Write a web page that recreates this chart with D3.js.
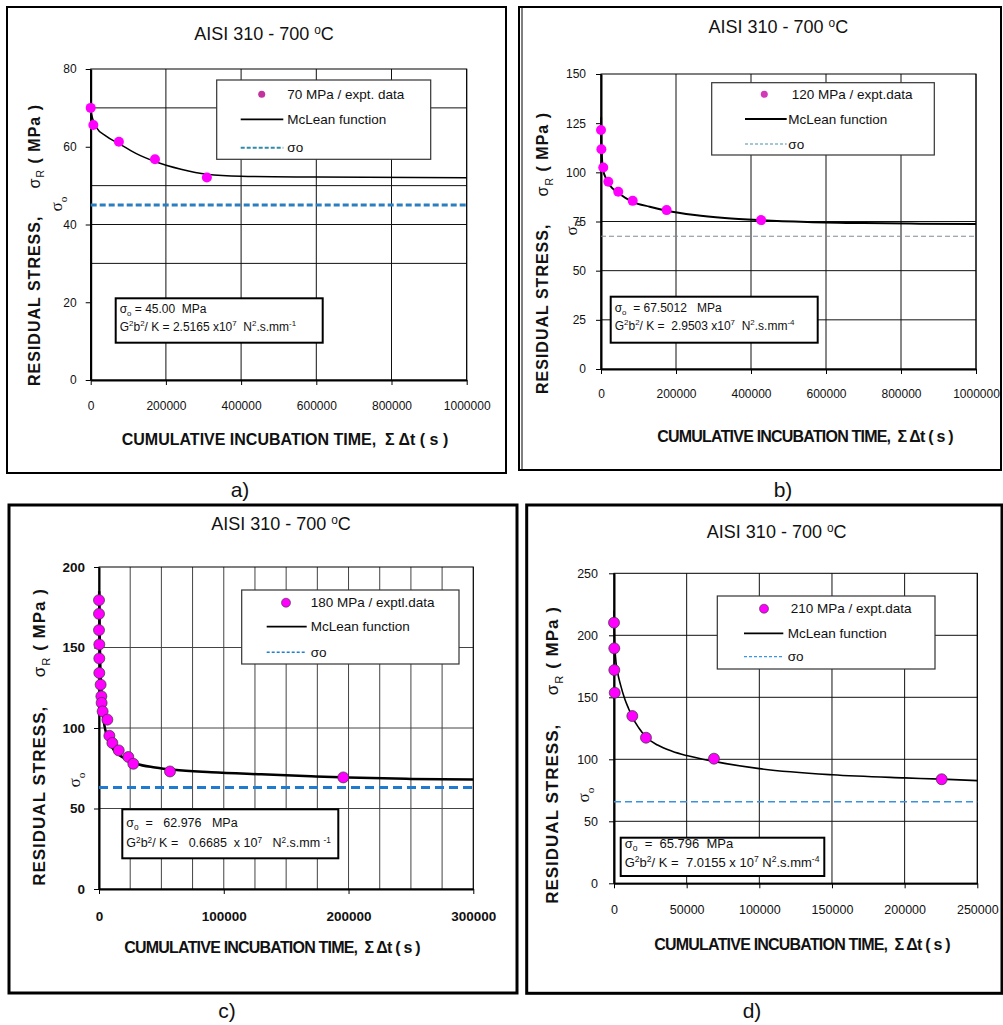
<!DOCTYPE html>
<html>
<head>
<meta charset="utf-8">
<script src="https://cdn.jsdelivr.net/npm/d3@7"></script>
<style>
  body { margin: 0; background: #fff; }
  svg text { font-family: "Liberation Sans", Arial, sans-serif; white-space: pre; fill: #111; }
</style>
</head>
<body>
<div id="chart"></div>
<script>
// ---- data ----
// a) 70 MPa
const aTime = [0, 7000, 75000, 171000, 309000]
const aStress = [70, 65.6, 61.3, 56.8, 52.1]
const aCurveTime = [0, 5000, 15000, 40000, 75000, 120000, 171000, 240000, 309000, 400000, 600000, 1000000]
const aCurveStress = [69.5, 67.3, 65, 62.8, 60.8, 58.3, 56.2, 54.2, 52.9, 52.4, 52.2, 52]
const aXTicks = [0, 200000, 400000, 600000, 800000, 1000000]
const aYTicks = [0, 20, 40, 60, 80]
const aYGrid = [30, 40, 50, 70]

// b) 120 MPa
const bTime = [0, 1000, 6000, 19500, 46000, 84500, 175000, 427000]
const bStress = [121.5, 111.7, 102.5, 95.2, 90.1, 85.5, 80.8, 75.7]
const bCurveTime = [300, 1000, 3000, 6000, 12000, 19500, 30000, 46000, 84500, 130000, 175000, 250000, 330000, 427000, 550000, 700000, 850000, 1000000]
const bCurveStress = [128, 114, 106, 101, 97.5, 94.5, 92, 89.5, 85, 82.5, 80.5, 78.3, 76.8, 75.7, 74.8, 74.2, 73.9, 73.7]
const bXTicks = [0, 200000, 400000, 600000, 800000, 1000000]
const bYTicks = [0, 25, 50, 75, 100, 125, 150]
const bYGrid = [25, 50, 75]

// c) 180 MPa
const cTime = [0, 0, 0, 250, 250, 250, 1300, 1900, 2100, 2900, 6700, 8300, 10700, 15800, 23500, 27500, 56900, 195800]
const cStress = [179.4, 170.9, 160.8, 151.9, 143.2, 134.2, 126.9, 119.7, 115.6, 110.3, 105.2, 95.2, 90.7, 86.1, 82, 77.8, 73, 69.3]
const cCurveTime = [150, 500, 1000, 1800, 2600, 3500, 5000, 7000, 10000, 15000, 22000, 30000, 45000, 60000, 90000, 130000, 170000, 200000, 250000, 300000]
const cCurveStress = [185, 160, 140, 125, 114, 106, 99, 93.5, 88.5, 84, 80.5, 77.8, 75.5, 74, 72.5, 71.2, 70, 69.2, 68.4, 68]
const cXTicks = [0, 100000, 200000, 300000]
const cXGrid = [0, 25000, 50000, 75000, 100000, 125000, 150000, 175000, 200000, 225000, 250000, 275000, 300000]
const cYTicks = [0, 50, 100, 150, 200]
const cYGrid = [50, 100, 150]

// d) 210 MPa
const dTime = [0, 200, 200, 500, 12600, 22000, 68800, 225500]
const dStress = [210.2, 189.5, 172, 153.7, 134.9, 117.4, 100.5, 83.9]
const dCurveTime = [0, 300, 1000, 2500, 4500, 7600, 10000, 12600, 17000, 22000, 30000, 40000, 50000, 68800, 100000, 150000, 200000, 225500, 250000]
const dCurveStress = [220, 200, 183, 170, 160, 148, 141, 134, 125.5, 118, 111.5, 106.5, 103, 98.3, 92.5, 87.5, 85, 84, 82.8]
const dXTicks = [0, 50000, 100000, 150000, 200000, 250000]
const dYTicks = [0, 50, 100, 150, 200, 250]
const dYGrid = [50, 100, 150, 200]

// ---- layout of the four panels ----
const panels = [
  { id: 'a', frame: [7, 7, 506, 473], frameW: 2, left: 90.7, right: 466.7, top: 69, bottom: 380,
    xMax: 1000000, yMax: 80, time: aTime, stress: aStress, cTime: aCurveTime, cStress: aCurveStress,
    xTicks: aXTicks, xGrid: aXTicks, yTicks: aYTicks, yGrid: aYGrid, sigma0: 45,
    title: [264, 40], ylab: [40, 245], ylabSize: 16, sigLab: [62, 204], xlab: [285, 445], xlabSpacing: 0,
    xTickY: 406, yTickX: 76.7, tickSize: 12, tickBold: false,
    legend: [216.7, 80, 430.7, 159.3], marker: [261.7, 94.3], markerR: 3.5, markerFill: '#c2339e', markerStroke: 'none',
    legText1X: 287.3, legTextX: 287.3, legRows: [94.3, 119.3, 147.7], legLine: [240.7, 283.3],
    legendLabel: '70 MPa / expt. data', legDash: { color: '#2f8aa8', w: 2, dash: '4,2' },
    box: [115.7, 298.3, 322.7, 342.7], boxRows: [312.5, 330.5], boxSize: 12,
    line1: [['σ'], ['o', 'sub'], [' = 45.00  MPa']],
    line2: [['G'], ['2', 'sup'], ['b'], ['2', 'sup'], ['/ K = 2.5165 x10'], ['7', 'sup'], ['  N'], ['2', 'sup'], ['.s.mm'], ['-1', 'sup']],
    curveW: 1.5, pointR: 5, pointStroke: 'none',
    sigmaLine: { color: '#2b7fc0', w: 3, dash: '6,3' }, gridColor: '#111' },
  { id: 'b', frame: [519, 7, 1001, 470], frameW: 2, left: 601, right: 976, top: 74, bottom: 369,
    xMax: 1000000, yMax: 150, time: bTime, stress: bStress, cTime: bCurveTime, cStress: bCurveStress,
    xTicks: bXTicks, xGrid: bXTicks, yTicks: bYTicks, yGrid: bYGrid, sigma0: 67.5012,
    title: [778.3, 33.3], ylab: [548.3, 253], ylabSize: 16, sigLab: [576.7, 228], xlab: [805, 441.7], xlabSpacing: -0.8,
    xTickY: 393.3, yTickX: 586, tickSize: 12, tickBold: false,
    legend: [711.7, 82.7, 934.3, 155], marker: [764.3, 94.3], markerR: 3.5, markerFill: '#d23ab8', markerStroke: 'none',
    legText1X: 791.7, legTextX: 788.3, legRows: [94.3, 119, 144], legLine: [745, 786.7],
    legendLabel: '120 MPa / expt.data', legDash: { color: '#4a8fb0', w: 1.2, dash: '3,2' },
    box: [610.7, 296.7, 817.7, 342.7], boxRows: [311.5, 329.5], boxSize: 12,
    line1: [['σ'], ['o', 'sub'], ['  = 67.5012   MPa']],
    line2: [['G'], ['2', 'sup'], ['b'], ['2', 'sup'], ['/ K =  2.9503 x10'], ['7', 'sup'], ['  N'], ['2', 'sup'], ['.s.mm'], ['-4', 'sup']],
    curveW: 2, pointR: 5, pointStroke: 'none',
    sigmaLine: { color: '#7a8c98', w: 1, dash: '5,3' }, gridColor: '#111' },
  { id: 'c', frame: [9, 505, 517, 993], frameW: 3, left: 99, right: 473.3, top: 567, bottom: 889,
    xMax: 300000, yMax: 200, time: cTime, stress: cStress, cTime: cCurveTime, cStress: cCurveStress,
    xTicks: cXTicks, xGrid: cXGrid, yTicks: cYTicks, yGrid: cYGrid, sigma0: 62.976,
    title: [281, 530], ylab: [45, 737], ylabSize: 17, sigLab: [80, 780], xlab: [272, 952.7], xlabSpacing: -0.8,
    xTickY: 916.7, yTickX: 85, tickSize: 13.5, tickBold: true,
    legend: [241.7, 590, 459, 664], marker: [286, 602.7], markerR: 4.5, markerFill: '#ff00ff', markerStroke: '#333',
    legText1X: 310.7, legTextX: 310.7, legRows: [602.7, 626.7, 652.3], legLine: [266.7, 306.7],
    legendLabel: '180 MPa / exptl.data', legDash: { color: '#1f7fd0', w: 1.5, dash: '3,2' },
    box: [122.3, 809.3, 338.3, 858.3], boxRows: [826.5, 847], boxSize: 12.5,
    line1: [['σ'], ['o', 'sub'], ['  =   62.976   MPa']],
    line2: [['G'], ['2', 'sup'], ['b'], ['2', 'sup'], ['/ K =   0.6685  x 10'], ['7', 'sup'], ['   N'], ['2', 'sup'], ['.s.mm '], ['-1', 'sup']],
    curveW: 2.5, pointR: 5.5, pointStroke: '#333',
    sigmaLine: { color: '#1f7ad0', w: 3, dash: '9,5' }, gridColor: '#444' },
  { id: 'd', frame: [526.7, 505, 1002, 993.3], frameW: 3, left: 614, right: 977.3, top: 573.3, bottom: 883.3,
    xMax: 250000, yMax: 250, time: dTime, stress: dStress, cTime: dCurveTime, cStress: dCurveStress,
    xTicks: dXTicks, xGrid: dXTicks, yTicks: dYTicks, yGrid: dYGrid, sigma0: 65.796,
    title: [776.7, 538.3], ylab: [558, 755], ylabSize: 17, sigLab: [589, 795], xlab: [802, 950], xlabSpacing: -0.8,
    xTickY: 910, yTickX: 598, tickSize: 12.5, tickBold: false,
    legend: [717.3, 596, 935, 669], marker: [764, 608.7], markerR: 4.5, markerFill: '#ff00ff', markerStroke: '#333',
    legText1X: 790.7, legTextX: 787.7, legRows: [608.7, 633.3, 656.7], legLine: [744, 783.3],
    legendLabel: '210 MPa / expt.data', legDash: { color: '#3a96e0', w: 1.2, dash: '3,2' },
    box: [620.7, 837.7, 824.3, 876], boxRows: [847.5, 867], boxSize: 13,
    line1: [['σ'], ['o', 'sub'], ['  =  65.796  MPa']],
    line2: [['G'], ['2', 'sup'], ['b'], ['2', 'sup'], ['/ K =  7.0155 x 10'], ['7', 'sup'], [' N'], ['2', 'sup'], ['.s.mm'], ['-4', 'sup']],
    curveW: 1.6, pointR: 5.5, pointStroke: '#333',
    sigmaLine: { color: '#3a92dc', w: 1.6, dash: '7,4' }, gridColor: '#111' }
]

const svg = d3.select('#chart').append('svg')
  .attr('width', 1003).attr('height', 1025)

// text with sub / superscripts, segments are [text, mode, bold]
function richText(g, x, y, segs, size) {
  const t = g.append('text').attr('x', x).attr('y', y).style('font-size', size + 'px')
  let shift = 0
  segs.forEach(s => {
    const mode = s[1] || ''
    const target = mode === 'sub' ? size * 0.28 : mode === 'sup' ? -size * 0.36 : 0
    t.append('tspan')
      .attr('dy', target - shift)
      .style('font-size', mode ? (size * 0.66) + 'px' : null)
      .style('font-weight', s[2] ? 'bold' : null)
      .text(s[0])
    shift = target
  })
  return t
}

function drawPanel(p) {
  const g = svg.append('g').attr('class', 'panel-' + p.id)
  const x = d3.scaleLinear().domain([0, p.xMax]).range([p.left, p.right])
  const y = d3.scaleLinear().domain([0, p.yMax]).range([p.bottom, p.top])

  // frame
  g.append('rect')
    .attr('x', p.frame[0]).attr('y', p.frame[1])
    .attr('width', p.frame[2] - p.frame[0]).attr('height', p.frame[3] - p.frame[1])
    .attr('fill', 'none').attr('stroke', '#000').attr('stroke-width', p.frameW)
  if (p.id === 'b') {
    g.append('line').attr('x1', p.frame[0] + 3).attr('x2', p.frame[0] + 3)
      .attr('y1', p.frame[1]).attr('y2', p.frame[3]).attr('stroke', '#000').attr('stroke-width', 1)
  }

  // title
  richText(g, p.title[0], p.title[1], [['AISI 310 - 700 '], ['o', 'sup'], ['C']], 18)
    .attr('text-anchor', 'middle').attr('dy', '0.35em')

  // grid
  g.append('g').selectAll('line').data(p.xGrid).join('line')
    .attr('x1', d => x(d)).attr('x2', d => x(d))
    .attr('y1', p.top).attr('y2', p.bottom)
    .attr('stroke', p.gridColor).attr('stroke-width', 1)
  g.append('g').selectAll('line').data(p.yGrid).join('line')
    .attr('x1', p.left).attr('x2', p.right)
    .attr('y1', d => y(d)).attr('y2', d => y(d))
    .attr('stroke', p.gridColor).attr('stroke-width', 1)
  g.append('rect')
    .attr('x', p.left).attr('y', p.top)
    .attr('width', p.right - p.left).attr('height', p.bottom - p.top)
    .attr('fill', 'none').attr('stroke', '#000').attr('stroke-width', 1)

  // axes
  const fmt = d3.format('d')
  const xAxis = d3.axisBottom(x).tickValues(p.xTicks).tickFormat(fmt)
    .tickSize(5).tickSizeOuter(0)
    .tickPadding(p.xTickY - p.bottom - 5 - 0.36 * p.tickSize)
  const yAxis = d3.axisLeft(y).tickValues(p.yTicks).tickFormat(fmt)
    .tickSize(5).tickSizeOuter(0)
    .tickPadding(p.left - p.yTickX - 5)
  const gx = g.append('g').attr('transform', `translate(0,${p.bottom})`).call(xAxis)
  const gy = g.append('g').attr('transform', `translate(${p.left},0)`).call(yAxis)
  ;[gx, gy].forEach(a => {
    a.select('.domain').attr('stroke', '#000').attr('stroke-width', 2)
    a.selectAll('.tick line').attr('stroke', '#000')
    a.selectAll('.tick text')
      .style('font-size', p.tickSize + 'px')
      .style('font-weight', p.tickBold ? 'bold' : 'normal')
      .attr('fill', '#111')
  })

  // sigma0 line
  g.append('line')
    .attr('x1', p.left).attr('x2', p.right)
    .attr('y1', y(p.sigma0)).attr('y2', y(p.sigma0))
    .attr('stroke', p.sigmaLine.color).attr('stroke-width', p.sigmaLine.w)
    .attr('stroke-dasharray', p.sigmaLine.dash)

  // McLean function
  const curvePts = p.cTime.map((t, i) => [t, p.cStress[i]])
  g.append('path')
    .datum(curvePts)
    .attr('d', d3.line().x(d => x(d[0])).y(d => y(d[1])).curve(d3.curveMonotoneX))
    .attr('fill', 'none').attr('stroke', '#000').attr('stroke-width', p.curveW)

  // experimental data
  const pts = p.time.map((t, i) => [t, p.stress[i]])
  g.append('g').selectAll('circle').data(pts).join('circle')
    .attr('cx', d => x(d[0])).attr('cy', d => y(d[1]))
    .attr('r', p.pointR)
    .attr('fill', '#ff00ff')
    .attr('stroke', p.pointStroke).attr('stroke-width', 0.7)

  // legend
  const L = p.legend
  g.append('rect')
    .attr('x', L[0]).attr('y', L[1]).attr('width', L[2] - L[0]).attr('height', L[3] - L[1])
    .attr('fill', '#fff').attr('stroke', '#333').attr('stroke-width', 1.2)
  g.append('circle').attr('cx', p.marker[0]).attr('cy', p.marker[1]).attr('r', p.markerR)
    .attr('fill', p.markerFill).attr('stroke', p.markerStroke).attr('stroke-width', 0.6)
  g.append('line').attr('x1', p.legLine[0]).attr('x2', p.legLine[1])
    .attr('y1', p.legRows[1]).attr('y2', p.legRows[1])
    .attr('stroke', '#000').attr('stroke-width', 1.8)
  g.append('line').attr('x1', p.legLine[0]).attr('x2', p.legLine[1])
    .attr('y1', p.legRows[2]).attr('y2', p.legRows[2])
    .attr('stroke', p.legDash.color).attr('stroke-width', p.legDash.w)
    .attr('stroke-dasharray', p.legDash.dash)
  const legTexts = [p.legendLabel, 'McLean function', 'σo']
  legTexts.forEach((s, i) => {
    g.append('text')
      .attr('x', i === 0 ? p.legText1X : p.legTextX).attr('y', p.legRows[i])
      .attr('dy', '0.35em').style('font-size', '13.5px').text(s)
  })

  // parameter box
  const B = p.box
  g.append('rect')
    .attr('x', B[0]).attr('y', B[1]).attr('width', B[2] - B[0]).attr('height', B[3] - B[1])
    .attr('fill', '#fff').attr('stroke', '#000').attr('stroke-width', 2)
  richText(g, B[0] + 4, p.boxRows[0], p.line1, p.boxSize).attr('dy', '0.35em')
  richText(g, B[0] + 4, p.boxRows[1], p.line2, p.boxSize).attr('dy', '0.35em')

  // axis titles
  richText(g, p.xlab[0], p.xlab[1],
    [['CUMULATIVE INCUBATION TIME,  Σ Δt ( s )', '', true]], 16)
    .attr('text-anchor', 'middle').attr('dy', '0.35em')
    .style('letter-spacing', p.xlabSpacing + 'px')
  richText(g, 0, 0,
    [['RESIDUAL STRESS,     ', '', true], ['σ'], ['R', 'sub'], [' ( MPa )', '', true]], p.ylabSize)
    .attr('text-anchor', 'middle').attr('dy', '0.35em')
    .style('letter-spacing', '1px')
    .attr('transform', `translate(${p.ylab[0]},${p.ylab[1]}) rotate(-90)`)
  richText(g, 0, 0, [['σ'], ['o', 'sub']], 17)
    .style('font-family', '"Liberation Serif", "Times New Roman", serif')
    .attr('text-anchor', 'middle').attr('dy', '0.35em')
    .attr('transform', `translate(${p.sigLab[0]},${p.sigLab[1]}) rotate(-90)`)
}

panels.forEach(drawPanel)

// sub-figure letters
const letters = [['a)', 240, 490], ['b)', 783, 490], ['c)', 227, 1011], ['d)', 752, 1011]]
svg.selectAll('text.letter').data(letters).join('text')
  .attr('class', 'letter')
  .attr('x', d => d[1]).attr('y', d => d[2])
  .attr('text-anchor', 'middle').attr('dy', '0.35em')
  .style('font-size', '21px')
  .text(d => d[0])
</script>
</body>
</html>
